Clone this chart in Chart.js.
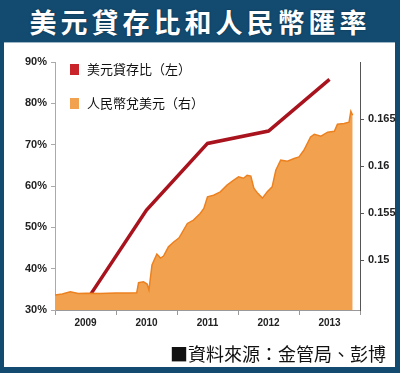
<!DOCTYPE html>
<html>
<head>
<meta charset="utf-8">
<script src="https://cdn.jsdelivr.net/npm/chart.js@4.4.0/dist/chart.umd.min.js"></script>
<style>
  html, body { margin: 0; padding: 0; }
  body { width: 400px; height: 373px; background: #134b70; position: relative; overflow: hidden; }
  #title {
    position: absolute; left: 0; top: 2px; width: 400px; text-align: center;
    color: #fff; font: bold 27px "Noto Sans CJK TC", sans-serif; letter-spacing: 4px;
    text-shadow: 0 0 2px #0a2a40;
  }
  #panel { position: absolute; left: 4px; top: 42px; width: 391px; height: 324px; background: #fff; border-top: 1px solid #9fb6c6; }
  #source {
    position: absolute; right: 14px; top: 340px; color: #111;
    font: 18px "Noto Sans CJK TC", sans-serif;
  }
  #wrap { position: absolute; left: 0; top: 0; width: 400px; height: 373px; }
</style>
</head>
<body>
<div id="title">美元貸存比和人民幣匯率</div>
<div id="panel"></div>
<div id="wrap"><canvas id="myChart" width="400" height="373"></canvas></div>
<div id="source">■資料來源：金管局、彭博</div>
<script>
// year labels on the bottom axis
const yearLabels = [2009, 2010, 2011, 2012, 2013];

// USD loan-to-deposit ratio (left axis, %)
const ldrYears = [2009.5, 2010.5, 2011.5, 2012.5, 2013.5];
const ldrValues = [31.9, 54.2, 70.3, 73.3, 85.8];

// RMB vs USD (right axis)
const fxYears = [2009.00, 2009.12, 2009.25, 2009.38, 2009.52, 2009.74, 2009.99, 2010.23, 2010.34,
  2010.37, 2010.45, 2010.51, 2010.54, 2010.59, 2010.67, 2010.73, 2010.78, 2010.86, 2010.95,
  2011.03, 2011.06, 2011.17, 2011.27, 2011.38, 2011.44, 2011.50, 2011.60, 2011.71, 2011.82,
  2011.93, 2012.01, 2012.09, 2012.15, 2012.21, 2012.26, 2012.32, 2012.40, 2012.48, 2012.56,
  2012.62, 2012.70, 2012.81, 2012.92, 2013.00, 2013.08, 2013.19, 2013.25, 2013.36, 2013.47,
  2013.58, 2013.63, 2013.74, 2013.82, 2013.85, 2013.88];
const fxValues = [0.14628, 0.14638, 0.14663, 0.14644, 0.14646, 0.14644, 0.14649, 0.14649, 0.14652,
  0.14759, 0.14769, 0.14745, 0.14681, 0.14947, 0.15064, 0.15021, 0.15043, 0.15141, 0.15195,
  0.15234, 0.15266, 0.15390, 0.15426, 0.15497, 0.15550, 0.15673, 0.15691, 0.15727, 0.15798,
  0.15851, 0.15886, 0.15872, 0.15904, 0.15894, 0.15766, 0.15713, 0.15660, 0.15727, 0.15780,
  0.15957, 0.16064, 0.16053, 0.16082, 0.16099, 0.16170, 0.16312, 0.16340, 0.16319, 0.16362,
  0.16372, 0.16447, 0.16454, 0.16468, 0.16585, 0.16543];

const leftTicks = [30, 40, 50, 60, 70, 80, 90];
const rightTicks = [0.15, 0.155, 0.16, 0.165];

const tickFont = { family: '"Liberation Sans Narrow", "Liberation Sans", sans-serif', size: 11, weight: 'bold' };

function toPoints(xs, ys) {
  return xs.map((x, i) => ({ x: x, y: ys[i] }));
}

// legend drawn inside the plot, top-left, one item per row
const insideLegend = {
  id: 'insideLegend',
  afterDraw(chart) {
    const c = chart.ctx;
    const area = chart.chartArea;
    c.save();
    c.font = '13px "Noto Sans CJK TC", serif';
    c.textBaseline = 'middle';
    chart.data.datasets.forEach((ds, i) => {
      const y = area.top + 7 + i * 34;
      c.fillStyle = ds.backgroundColor;
      c.fillRect(area.left + 15, y - 5, 9, 11);
      c.fillStyle = '#111';
      c.fillText(ds.label, area.left + 32, y);
    });
    c.restore();
  }
};

const ctx = document.getElementById('myChart').getContext('2d');
const chart = new Chart(ctx, {
  type: 'line',
  data: {
    datasets: [{
      label: '美元貸存比（左）',
      data: toPoints(ldrYears, ldrValues),
      yAxisID: 'yL',
      borderColor: '#a8131d',
      backgroundColor: '#c8242a',
      borderWidth: 3.5,
      pointRadius: 0,
      fill: false,
      order: 2
    }, {
      label: '人民幣兌美元（右）',
      data: toPoints(fxYears, fxValues),
      yAxisID: 'yR',
      borderColor: '#ec8120',
      backgroundColor: '#f2a24f',
      borderWidth: 1.5,
      pointRadius: 0,
      fill: 'start',
      order: 1
    }]
  },
  options: {
    responsive: false,
    animation: false,
    layout: { padding: { top: 62, bottom: 38, left: 0, right: 0 } },
    plugins: {
      tooltip: { enabled: false },
      legend: { display: false }
    },
    scales: {
      x: {
        type: 'linear',
        min: 2009,
        max: 2014,
        afterBuildTicks: (axis) => {
          const t = [];
          yearLabels.forEach(y => { t.push({ value: y }); t.push({ value: y + 0.5 }); });
          t.push({ value: 2014 });
          axis.ticks = t;
        },
        afterFit: (axis) => { axis.height = 25; },
        border: { color: '#999', width: 1 },
        grid: {
          drawOnChartArea: false,
          tickLength: 5,
          tickColor: (c) => (c.tick && c.tick.value % 1 === 0) ? '#999' : 'rgba(0,0,0,0)'
        },
        ticks: {
          autoSkip: false,
          maxRotation: 0,
          padding: 2,
          color: '#222',
          font: { family: tickFont.family, size: 10, weight: 'bold' },
          callback: (v) => (v % 1 !== 0) ? String(Math.floor(v)) : ''
        }
      },
      yL: {
        position: 'left',
        min: 30,
        max: 90,
        afterBuildTicks: (axis) => { axis.ticks = leftTicks.map(v => ({ value: v })); },
        afterFit: (axis) => { axis.width = 55; },
        border: { color: '#aaa', width: 1 },
        grid: { drawOnChartArea: false, tickLength: 4, tickColor: '#aaa' },
        ticks: { color: '#222', font: tickFont, padding: 4, callback: (v) => v + '%' }
      },
      yR: {
        position: 'right',
        min: 0.14468,
        max: 0.1711,
        afterBuildTicks: (axis) => { axis.ticks = rightTicks.map(v => ({ value: v })); },
        afterFit: (axis) => { axis.width = 40; },
        border: { color: '#555', width: 1 },
        grid: { drawOnChartArea: false, tickLength: 4, tickColor: '#555' },
        ticks: { color: '#222', font: tickFont, padding: 4, callback: (v) => String(v) }
      }
    }
  },
  plugins: [insideLegend]
});
</script>
</body>
</html>
